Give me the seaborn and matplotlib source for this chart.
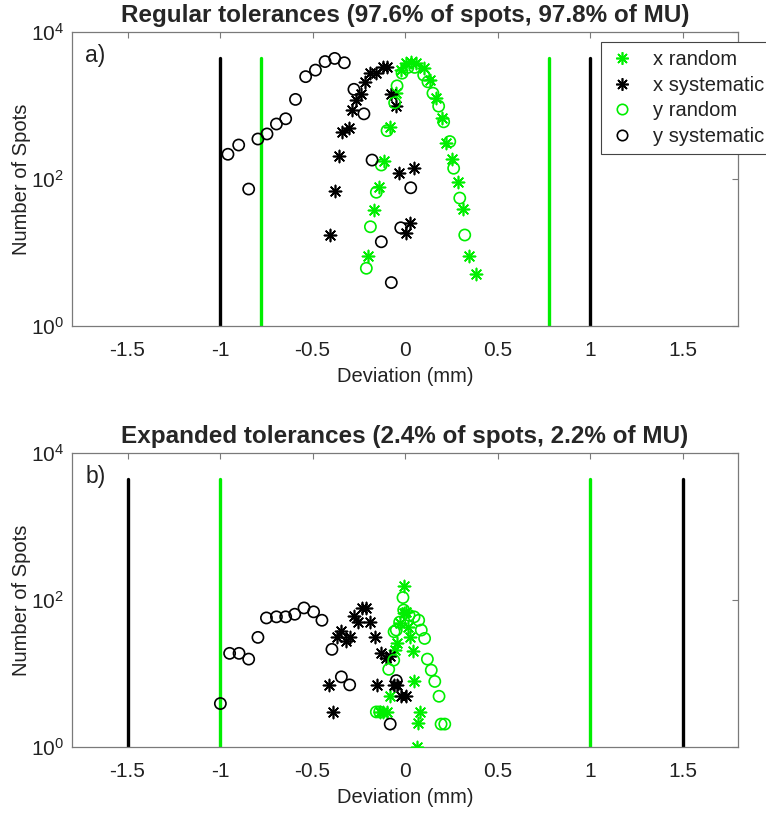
import numpy as np
import pandas as pd
import matplotlib
matplotlib.use("Agg")
import matplotlib.pyplot as plt
import seaborn as sns
from matplotlib.lines import Line2D
from matplotlib.ticker import NullLocator, FixedLocator

# ---------------- data ----------------
# Panel a) regular tolerances
a_xrand_dev = [-0.200, -0.169, -0.142, -0.113, -0.083, -0.047, -0.020, 0.007, 0.034, 0.061,
               0.101, 0.137, 0.166, 0.200, 0.224, 0.256, 0.287, 0.314, 0.346, 0.386]
a_xrand_n = [8.9, 38, 77, 177, 515, 1470, 3040, 3740, 3880, 3740,
             3220, 2220, 1250, 670, 307, 185, 90, 39, 8.9, 5.1]

a_xsys_dev = [-0.403, -0.380, -0.357, -0.340, -0.304, -0.286, -0.263, -0.239, -0.214, -0.191,
              -0.155, -0.119, -0.100, -0.074, -0.050, -0.032, 0.004, 0.025, 0.047]
a_xsys_n = [17.3, 69, 205, 432, 500, 870, 1180, 1415, 2080, 2750,
            2800, 3380, 3380, 1415, 980, 122, 18.3, 25.5, 142]

a_yrand_dev = [-0.209, -0.187, -0.155, -0.128, -0.097, -0.056, -0.043, -0.016, 0.016, 0.052,
               0.101, 0.124, 0.151, 0.182, 0.209, 0.242, 0.263, 0.296, 0.323]
a_yrand_n = [6.1, 22.4, 66, 155, 455, 1090, 1850, 2750, 3300, 3300,
             2600, 2100, 1470, 980, 600, 323, 140, 55, 17.3]

a_ysys_dev = [-0.957, -0.899, -0.845, -0.795, -0.746, -0.695, -0.645, -0.592, -0.537, -0.484,
              -0.432, -0.380, -0.328, -0.276, -0.222, -0.178, -0.128, -0.074, -0.023, 0.031]
a_ysys_n = [217, 290, 73, 350, 410, 560, 660, 1210, 2470, 3030,
            3960, 4370, 3820, 1660, 770, 181, 14, 3.9, 21.7, 76]

# Panel b) expanded tolerances
b_xrand_dev = [-0.137, -0.120, -0.100, -0.083, -0.056, -0.041, -0.029, -0.005, -0.003, 0.003,
               0.016, 0.025, 0.043, 0.047, 0.065, 0.070, 0.083]
b_xrand_n = [3.0, 3.0, 3.0, 4.9, 20.9, 25.7, 48.5, 155, 66, 69,
             43, 31, 20, 8.0, 1.0, 2.15, 3.0]

b_xsys_dev = [-0.411, -0.389, -0.365, -0.344, -0.320, -0.299, -0.277, -0.254, -0.230, -0.209,
              -0.187, -0.164, -0.149, -0.128, -0.104, -0.083, -0.061, -0.043, -0.020, 0.004]
b_xsys_n = [6.9, 3.0, 31, 38, 28, 31, 61, 50, 78, 77,
            50, 31, 6.9, 18.8, 16.5, 17.3, 6.9, 6.9, 4.9, 4.9]

b_yrand_dev = [-0.155, -0.137, -0.088, -0.061, -0.059, -0.047, -0.029, -0.011, -0.007, 0.022,
               0.049, 0.074, 0.088, 0.106, 0.121, 0.142, 0.161, 0.184, 0.195, 0.215]
b_yrand_n = [3.0, 3.0, 11.4, 15.2, 37, 39, 50, 108, 73, 62,
             59, 53, 39, 30, 15.7, 11.1, 7.8, 4.9, 2.05, 2.05]

b_ysys_dev = [-0.998, -0.948, -0.897, -0.845, -0.795, -0.749, -0.695, -0.645, -0.596, -0.546,
              -0.494, -0.449, -0.395, -0.344, -0.299, -0.080, -0.047]
b_ysys_n = [3.9, 18.8, 18.8, 15.7, 31, 57, 59, 59, 64, 78,
            69, 53, 21.3, 9.0, 7.0, 2.05, 8.0]

a_tol_green = [-0.78, 0.78]
a_tol_black = [-1.0, 1.0]
b_tol_green = [-1.0, 1.0]
b_tol_black = [-1.5, 1.5]

titles = ["Regular tolerances (97.6% of spots, 97.8% of MU)",
          "Expanded tolerances (2.4% of spots, 2.2% of MU)"]
tags = ["a)", "b)"]
series_labels = ["x random", "x systematic", "y random", "y systematic"]
xticks = [-1.5, -1, -0.5, 0, 0.5, 1, 1.5]
xtick_labels = ["-1.5", "-1", "-0.5", "0", "0.5", "1", "1.5"]
yticks = [1, 100, 10000]

# ---------------- style ----------------
sns.set_theme(style="white")
plt.rcParams["font.family"] = ["Liberation Sans", "DejaVu Sans"]
plt.rcParams["mathtext.default"] = "regular"

GREEN = "#00ee00"
BLACK = "#000000"
AXC = "#7a7a7a"
TXT = "#222222"
AST = (8, 2, 0)

fig = plt.figure(figsize=(7.66, 8.18), dpi=100)
W, H = 766, 818
axA = fig.add_axes([72 / W, 1 - 326 / H, 666 / W, 294 / H])
axB = fig.add_axes([72 / W, 1 - 747 / H, 666 / W, 294 / H])

line_top = max(a_ysys_n + a_xrand_n + a_yrand_n + a_xsys_n)

panels = [
    (axA, (a_xrand_dev, a_xrand_n), (a_xsys_dev, a_xsys_n), (a_yrand_dev, a_yrand_n),
     (a_ysys_dev, a_ysys_n), a_tol_green, a_tol_black),
    (axB, (b_xrand_dev, b_xrand_n), (b_xsys_dev, b_xsys_n), (b_yrand_dev, b_yrand_n),
     (b_ysys_dev, b_ysys_n), b_tol_green, b_tol_black),
]

for i, (ax, xr, xs, yr, ys, tg, tb) in enumerate(panels):
    ax.set_yscale("log")
    for t in tb:
        ax.plot([t, t], [1, line_top], color=BLACK, lw=2.4, zorder=1)
    for t in tg:
        ax.plot([t, t], [1, line_top], color=GREEN, lw=2.4, zorder=1)
    specs = [(xr, GREEN, "ast"), (xs, BLACK, "ast"), (yr, GREEN, "o"), (ys, BLACK, "o")]
    for (dev, n), col, mk in specs:
        df = pd.DataFrame({"dev": dev, "n": n})
        if mk == "o":
            sns.scatterplot(data=df, x="dev", y="n", ax=ax, marker="o", s=65,
                            color=col, facecolor="none", edgecolor=col, linewidth=1.2, zorder=3)
        else:
            sns.scatterplot(data=df, x="dev", y="n", ax=ax, marker=AST, s=75,
                            color=col, linewidth=1.2, zorder=3)
    ax.set_xlim(-1.8, 1.8)
    ax.set_ylim(1, 10000)
    ax.xaxis.set_major_locator(FixedLocator(xticks))
    ax.set_xticklabels(xtick_labels)
    ax.yaxis.set_major_locator(FixedLocator(yticks))
    ax.yaxis.set_minor_locator(NullLocator())
    ax.tick_params(axis="both", which="both", direction="in", top=True, right=True,
                   length=4, width=0.8, color=AXC, labelsize=15, labelcolor=TXT)
    ax.tick_params(axis="x", pad=11)
    ax.tick_params(axis="y", pad=6)
    for sp in ax.spines.values():
        sp.set_color(AXC)
        sp.set_linewidth(0.9)
        sp.set_visible(True)
    ax.set_xlabel("Deviation (mm)", fontsize=14.5, color=TXT, labelpad=5)
    ax.set_ylabel("Number of Spots", fontsize=14.5, color=TXT, labelpad=0)
    ax.set_title(titles[i], fontsize=17.5, fontweight="bold", pad=7)
    ax.text(0.02, 0.92, tags[i], transform=ax.transAxes, fontsize=16.5, va="center",
            ha="left", color=TXT)
    ax.grid(False)

handles = [
    Line2D([], [], ls="none", marker=AST, ms=9, mew=1.2, color=GREEN),
    Line2D([], [], ls="none", marker=AST, ms=9, mew=1.2, color=BLACK),
    Line2D([], [], ls="none", marker="o", ms=7.5, mew=1.2, mfc="none", mec=GREEN),
    Line2D([], [], ls="none", marker="o", ms=7.5, mew=1.2, mfc="none", mec=BLACK),
]
leg = fig.legend(handles, series_labels, loc="upper left",
                 bbox_to_anchor=(601 / W, 1 - 42 / H), fontsize=14.5, frameon=True,
                 fancybox=False, edgecolor="#444444", framealpha=1, borderpad=0.4,
                 handletextpad=0.9, labelspacing=0.33, handlelength=1.3, borderaxespad=0)
leg.get_frame().set_linewidth(0.8)
for t in leg.get_texts():
    t.set_color(TXT)

fig.savefig("out.png", dpi=100)
